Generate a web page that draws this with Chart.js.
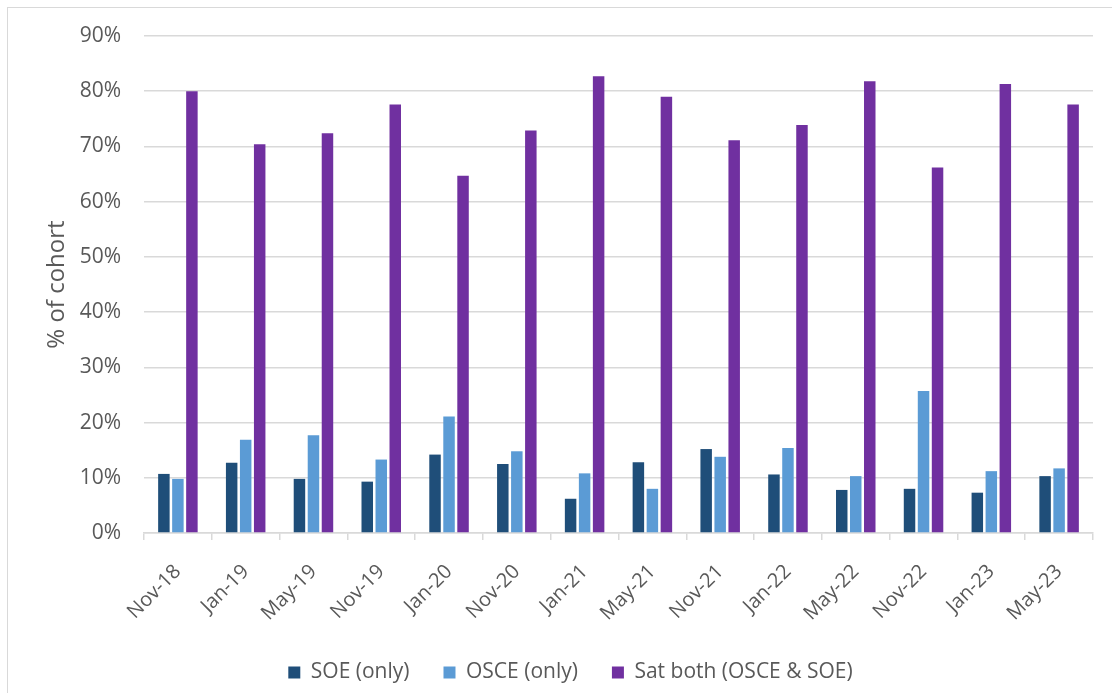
<!DOCTYPE html>
<html>
<head>
<meta charset="utf-8">
<script src="https://cdn.jsdelivr.net/npm/chart.js@4.4.1/dist/chart.umd.min.js"></script>
<style>
  html, body { margin: 0; padding: 0; background: #fff; }
  #wrap { position: relative; width: 1112px; height: 693px; }
  #frame {
    position: absolute; left: 7px; top: 7px; right: -5px; bottom: -5px;
    border-left: 1px solid #d9d9d9; border-top: 1px solid #d9d9d9;
    pointer-events: none;
  }
</style>
</head>
<body>
<div id="wrap">
  <canvas id="cohort-chart"></canvas>
  <div id="frame"></div>
</div>
<script>
// sittings
const sittings = ["Nov-18", "Jan-19", "May-19", "Nov-19", "Jan-20", "Nov-20", "Jan-21",
                  "May-21", "Nov-21", "Jan-22", "May-22", "Nov-22", "Jan-23", "May-23"];

// % of cohort
const soeOnly  = [10.7, 12.7, 9.8, 9.3, 14.2, 12.5, 6.2, 12.8, 15.2, 10.6, 7.8, 8.0, 7.3, 10.3];
const osceOnly = [9.8, 16.9, 17.7, 13.3, 21.1, 14.8, 10.8, 8.0, 13.8, 15.4, 10.3, 25.7, 11.2, 11.7];
const satBoth  = [80.0, 70.4, 72.4, 77.6, 64.7, 72.9, 82.7, 79.0, 71.1, 73.9, 81.8, 66.2, 81.3, 77.6];

const seriesNames = ["SOE (only)", "OSCE (only)", "Sat both (OSCE & SOE)"];
const yTicks = [0, 10, 20, 30, 40, 50, 60, 70, 80, 90];

const gridGrey = "#d9d9d9";
const textGrey = "#595959";
const fontFamily = "'Open Sans', sans-serif";

// left padding pushes the centred legend right, y axis eats the rest
const padLeft = 48;

Chart.defaults.font.family = fontFamily;
Chart.defaults.color = textGrey;

const ctx = document.getElementById("cohort-chart").getContext("2d");

new Chart(ctx, {
  type: "bar",
  data: {
    labels: sittings,
    datasets: [
      { label: seriesNames[0], data: soeOnly, backgroundColor: "#1f4e79" },
      { label: seriesNames[1], data: osceOnly, backgroundColor: "#5b9bd5" },
      { label: seriesNames[2], data: satBoth, backgroundColor: "#7030a0" }
    ]
  },
  options: {
    responsive: true,
    maintainAspectRatio: false,
    animation: false,
    datasets: {
      bar: { categoryPercentage: 0.62, barPercentage: 0.82 }
    },
    layout: { padding: { left: padLeft, right: 19, top: 36, bottom: 0 } },
    plugins: {
      tooltip: { enabled: false },
      legend: {
        position: "bottom",
        labels: {
          boxWidth: 12,
          boxHeight: 12,
          padding: 34,
          font: { size: 21 },
          color: textGrey
        }
      }
    },
    scales: {
      x: {
        grid: {
          offset: true,
          drawOnChartArea: false,
          tickLength: 7,
          color: gridGrey,
          lineWidth: 1.5
        },
        border: { color: gridGrey, width: 1.5 },
        ticks: {
          minRotation: 45,
          maxRotation: 45,
          padding: 20,
          font: { size: 20 },
          color: textGrey
        },
        afterFit: (scale) => { scale.height = 95; }
      },
      y: {
        min: 0,
        max: 90,
        afterBuildTicks: (scale) => {
          scale.ticks = yTicks.map(v => ({ value: v }));
        },
        grid: { color: gridGrey, lineWidth: 1.5, drawTicks: false },
        border: { display: false },
        ticks: {
          padding: 23,
          font: { size: 21 },
          color: textGrey,
          callback: (v) => v + "%"
        },
        title: {
          display: true,
          text: "% of cohort",
          font: { size: 24 },
          color: textGrey,
          padding: { top: 43 - padLeft, bottom: 0 }
        },
        afterFit: (scale) => { scale.width = 144 - padLeft; }
      }
    }
  }
});
</script>
</body>
</html>
